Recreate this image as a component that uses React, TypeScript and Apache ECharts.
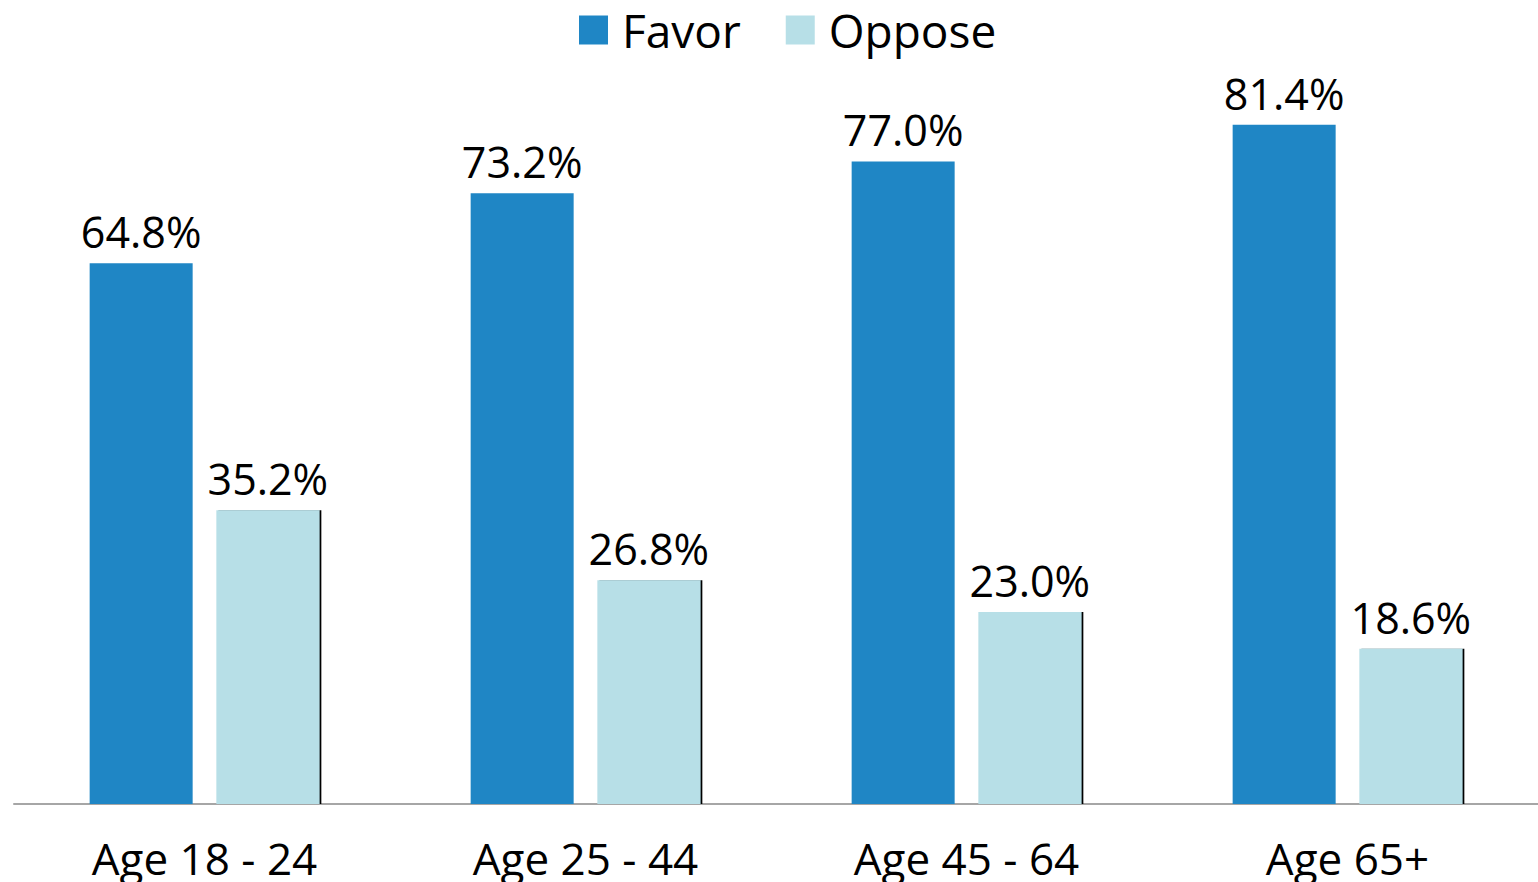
import React, { useEffect, useRef } from "react";
import * as echarts from "echarts";

const categories = ["Age 18 - 24", "Age 25 - 44", "Age 45 - 64", "Age 65+"];
const favor = [64.8, 73.2, 77.0, 81.4];
const oppose = [35.2, 26.8, 23.0, 18.6];

const FONT = "'Open Sans', 'Noto Sans', sans-serif";

export default function App() {
  const ref = useRef<HTMLDivElement>(null);
  useEffect(() => {
    if (!ref.current) return;
    const chart = echarts.init(ref.current, null, { renderer: "svg" });
    const label = {
      show: true,
      position: "top",
      distance: 10,
      color: "#000",
      fontSize: 43,
      fontFamily: FONT,
      formatter: (p: any) => p.value.toFixed(1) + "%",
    };
    chart.setOption({
      animation: false,
      legend: {
        top: 2,
        left: 574,
        itemWidth: 29,
        itemHeight: 29,
        itemGap: 45,
        icon: "rect",
        textStyle: { fontSize: 46, fontFamily: FONT, color: "#000", padding: [0, 0, 0, 9] },
        data: ["Favor", "Oppose"],
      },
      grid: { left: 14, right: 0, top: 53, bottom: 78, containLabel: false },
      xAxis: {
        type: "category",
        data: categories,
        axisLine: { show: true, lineStyle: { color: "#a6a6a6", width: 2 } },
        axisTick: { show: false },
        axisLabel: { fontSize: 44, fontFamily: FONT, color: "#000", margin: 32 },
      },
      yAxis: {
        type: "value",
        min: 0,
        max: 90,
        show: false,
        splitLine: { show: false },
      },
      series: [
        {
          name: "Favor",
          type: "bar",
          data: favor,
          barWidth: 103,
          barGap: "23%",
          itemStyle: { color: "#1f86c5" },
          label,
        },
        {
          name: "Oppose",
          type: "bar",
          data: oppose,
          barWidth: 103,
          itemStyle: {
            color: "#b7dfe7",
            shadowColor: "#000",
            shadowOffsetX: 2,
            shadowOffsetY: 0,
            shadowBlur: 0.5,
          },
          label,
        },
      ],
    });
    return () => chart.dispose();
  }, []);
  return (
    <div
      ref={ref}
      style={{ position: "absolute", left: 0, top: 0, width: 1538, height: 882 }}
    />
  );
}
